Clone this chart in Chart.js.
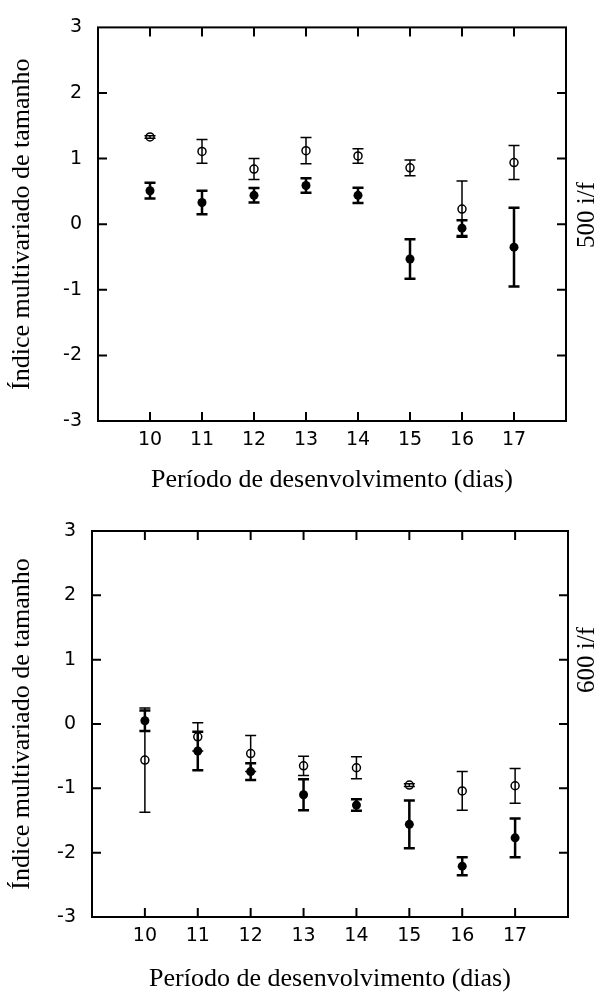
<!DOCTYPE html>
<html lang="pt">
<head>
<meta charset="utf-8">
<title>Índice multivariado de tamanho</title>
<script src="https://cdn.jsdelivr.net/npm/chart.js@4.4.1/dist/chart.umd.min.js"></script>
<style>
  html, body { margin: 0; padding: 0; background: #fff; overflow: hidden; }
  canvas { display: block; }
</style>
</head>
<body>
<canvas id="grafico500" width="603" height="500"></canvas>
<canvas id="grafico600" width="603" height="492"></canvas>
<script>
// Dados (médias e erros)
const dias = [10, 11, 12, 13, 14, 15, 16, 17];

// 500 i/f
const aberto500 = [1.33, 1.11, 0.84, 1.12, 1.04, 0.86, 0.23, 0.94];
const erroAberto500 = [0.02, 0.18, 0.16, 0.2, 0.11, 0.12, 0.43, 0.26];
const fechado500 = [0.51, 0.33, 0.44, 0.59, 0.44, -0.53, -0.06, -0.35];
const erroFechado500 = [0.12, 0.18, 0.11, 0.11, 0.115, 0.3, 0.12, 0.6];

// 600 i/f
const aberto600 = [-0.56, -0.2, -0.46, -0.65, -0.68, -0.95, -1.04, -0.96];
const erroAberto600 = [0.81, 0.22, 0.28, 0.15, 0.17, 0.02, 0.3, 0.27];
const fechado600 = [0.05, -0.42, -0.74, -1.1, -1.26, -1.56, -2.21, -1.77];
const erroFechado600 = [0.16, 0.3, 0.13, 0.24, 0.09, 0.37, 0.14, 0.3];

const tituloX = "Período de desenvolvimento (dias)";
const tituloY = "Índice multivariado de tamanho";

function paraPontos(valores) {
  return valores.map((v, i) => ({ x: dias[i], y: v }));
}

// Moldura com marcas para dentro nos quatro lados
const moldura = {
  id: "moldura",
  afterDraw(chart) {
    const { ctx, chartArea: a, scales } = chart;
    const tam = 9;
    ctx.save();
    ctx.strokeStyle = "#000";
    ctx.lineWidth = 2;
    ctx.strokeRect(a.left, a.top, a.right - a.left, a.bottom - a.top);
    ctx.beginPath();
    scales.x.ticks.forEach((t) => {
      if (t.value <= scales.x.min || t.value >= scales.x.max) return;
      const px = scales.x.getPixelForValue(t.value);
      ctx.moveTo(px, a.bottom);
      ctx.lineTo(px, a.bottom - tam);
      ctx.moveTo(px, a.top);
      ctx.lineTo(px, a.top + tam);
    });
    scales.y.ticks.forEach((t) => {
      if (t.value <= scales.y.min || t.value >= scales.y.max) return;
      const py = scales.y.getPixelForValue(t.value);
      ctx.moveTo(a.left, py);
      ctx.lineTo(a.left + tam, py);
      ctx.moveTo(a.right, py);
      ctx.lineTo(a.right - tam, py);
    });
    ctx.stroke();
    ctx.restore();
  },
};

// Barras de erro desenhadas pelas escalas do gráfico
const barrasErro = {
  id: "barrasErro",
  afterDatasetsDraw(chart) {
    const { ctx, scales: { x, y } } = chart;
    const meia = 5.5;
    ctx.save();
    ctx.strokeStyle = "#000";
    chart.data.datasets.forEach((ds) => {
      ctx.lineWidth = ds.espessuraErro;
      ds.data.forEach((p, i) => {
        const e = ds.erros[i];
        const px = x.getPixelForValue(p.x);
        const y1 = y.getPixelForValue(p.y + e);
        const y2 = y.getPixelForValue(p.y - e);
        ctx.beginPath();
        ctx.moveTo(px, y1);
        ctx.lineTo(px, y2);
        ctx.moveTo(px - meia, y1);
        ctx.lineTo(px + meia, y1);
        ctx.moveTo(px - meia, y2);
        ctx.lineTo(px + meia, y2);
        ctx.stroke();
      });
    });
    ctx.restore();
  },
};

// Rótulo vertical do lado direito (500 i/f, 600 i/f)
const rotuloDireita = {
  id: "rotuloDireita",
  afterDraw(chart, args, opts) {
    const { ctx } = chart;
    ctx.save();
    ctx.translate(opts.x, opts.y);
    ctx.rotate(-Math.PI / 2);
    ctx.font = '25px "Liberation Serif"';
    ctx.fillStyle = "#000";
    ctx.textAlign = "center";
    ctx.textBaseline = "middle";
    ctx.fillText(opts.texto, 0, 0);
    ctx.restore();
  },
};

function criarGrafico(id, aberto, erroAberto, fechado, erroFechado, cfg) {
  const canvas = document.getElementById(id);
  return new Chart(canvas, {
    type: "scatter",
    data: {
      datasets: [
        {
          label: "fechado",
          data: paraPontos(fechado),
          erros: erroFechado,
          espessuraErro: 2.5,
          pointRadius: 4.5,
          pointBackgroundColor: "#000",
          pointBorderColor: "#000",
          pointBorderWidth: 0,
        },
        {
          label: "aberto",
          data: paraPontos(aberto),
          erros: erroAberto,
          espessuraErro: 1.5,
          pointRadius: 4,
          pointBackgroundColor: "#fff",
          pointBorderColor: "#000",
          pointBorderWidth: 1.5,
        },
      ],
    },
    options: {
      responsive: false,
      animation: false,
      devicePixelRatio: 1,
      layout: { padding: { top: cfg.topo, right: cfg.direita, left: 0, bottom: 0 } },
      plugins: {
        legend: { display: false },
        tooltip: { enabled: false },
        rotuloDireita: { texto: cfg.rotulo, x: 587, y: cfg.rotuloY },
      },
      scales: {
        x: {
          type: "linear",
          min: 9,
          max: 18,
          afterFit: (s) => { s.height = cfg.alturaX; },
          grid: { display: false, drawTicks: false },
          border: { display: false },
          ticks: {
            stepSize: 1,
            padding: 8,
            color: "#000",
            maxRotation: 0,
            autoSkip: false,
            font: { family: "DejaVu Sans", size: 19 },
            callback: (v) => (dias.includes(v) ? v : ""),
          },
          title: {
            display: true,
            text: tituloX,
            color: "#000",
            font: { family: "Liberation Serif", size: 26, lineHeight: 1 },
            padding: { top: 0, bottom: cfg.tituloXpad },
          },
        },
        y: {
          min: -3,
          max: 3,
          afterFit: (s) => { s.width = cfg.larguraY; },
          grid: { display: false, drawTicks: false },
          border: { display: false },
          ticks: {
            stepSize: 1,
            padding: 16,
            color: "#000",
            font: { family: "DejaVu Sans", size: 19 },
          },
          title: {
            display: true,
            text: tituloY,
            color: "#000",
            font: { family: "Liberation Serif", size: 26, lineHeight: 1 },
            padding: { top: 9, bottom: 0 },
          },
        },
      },
    },
    plugins: [barrasErro, moldura, rotuloDireita],
  });
}

criarGrafico("grafico500", aberto500, erroAberto500, fechado500, erroFechado500, {
  topo: 19, direita: 37, alturaX: 79, larguraY: 98, tituloXpad: 7,
  rotulo: "500 i/f", rotuloY: 215,
});

criarGrafico("grafico600", aberto600, erroAberto600, fechado600, erroFechado600, {
  topo: 31, direita: 35, alturaX: 75, larguraY: 92, tituloXpad: 0,
  rotulo: "600 i/f", rotuloY: 160,
});
</script>
</body>
</html>
